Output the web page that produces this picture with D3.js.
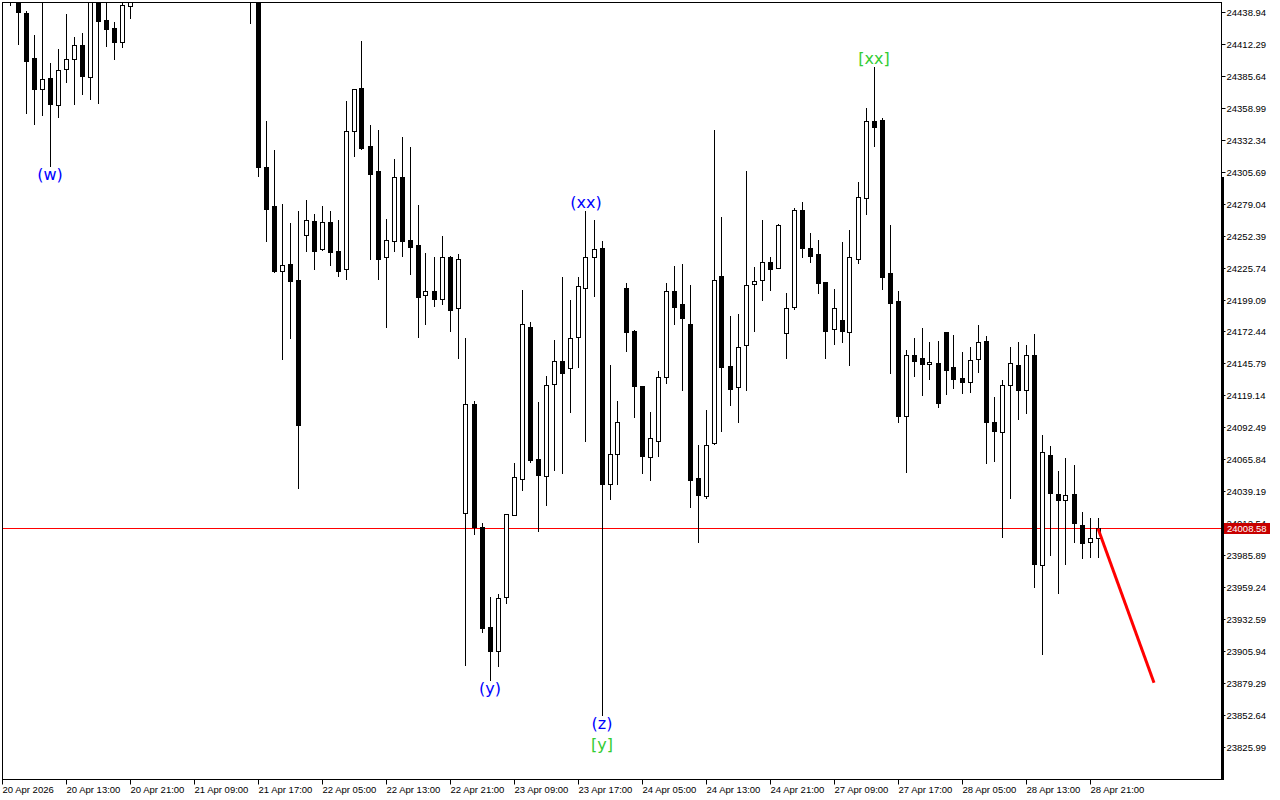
<!DOCTYPE html>
<html>
<head>
<meta charset="utf-8">
<script src="https://cdn.jsdelivr.net/npm/d3@7"></script>
<style>
  html, body { margin: 0; padding: 0; background: #ffffff; }
  svg { display: block; }
  .ax text { font-family: "Liberation Sans", Arial, sans-serif; font-size: 9.5px; fill: #000; }
</style>
</head>
<body>
<svg id="chart" width="1280" height="800"></svg>
<script>
// ---------------- DATA (H1 bars, index 0 = 20 Apr 05:00; null = not visible / above the window) ----------------
const open = [
  null, 24466, 24460, 24438.2, 24400.7, 24374.8, 24384.0, 24361.5, 24391.5, 24399.8,
  24411.5, 24384.8, 24456, 24432.6, 24425.9, 24414.0, 24444.0, null, null, null,
  null, null, null, null, null, null, null, null, null, null,
  null, 24470, 24476, 24310.3, 24277.5, 24223.5, 24228.9, 24215.8, 24253.1, 24265.0,
  24241.4, 24264.2, 24240.0, 24225.2, 24339.8, 24375.9, 24327.5, 24306.4, 24234.7, 24248.1,
  24301.4, 24249.2, 24244.7, 24203.0, 24206.4, 24199.7, 24234.7, 24192.2, 24021.3, 24112.8,
  24010.2, 23926.2, 23906.8, 23951.8, 24020.0, 24049.6, 24177.0, 24066.3, 24052.1, 24128.9,
  24148.0, 24142.7, 24168.1, 24208.8, 24234.7, 24242.1, 24045.3, 24070.3, 24208.8, 24173.3,
  24127.3, 24068.6, 24081.3, 24135.2, 24206.4, 24195.5, 24178.9, 24050.4, 24035.9, 24079.6,
  24218.9, 24143.8, 24126.8, 24161.3, 24212.2, 24215.5, 24230.6, 24226.0, 24171.8, 24193.0,
  24273.9, 24242.2, 24237.5, 24213.9, 24174.7, 24182.2, 24172.7, 24233.6, 24283.9, 24348.4,
  24349.0, 24221.4, 24198.0, 24102.1, 24153.0, 24150.5, 24145.5, 24146.3, 24172.4, 24143.0,
  24133.8, 24131.0, 24149.7, 24164.9, 24097.1, 24088.8, 24128.0, 24144.7, 24123.8, 24153.0,
  23977.9, 24069.6, 24037.1, 24032.1, 24037.1, 24011.2, 23997.1, 24000.4
];
const high = [
  null, 24472, 24468, 24440.1, 24420.1, 24452, 24396.5, 24408.2, 24437.4, 24418.2,
  24421.5, 24462, 24464, 24452, 24430.7, 24451, 24466, null, null, null,
  null, null, null, null, null, null, null, null, null, null,
  null, 24482, 24480, 24348.4, 24324.2, 24279.2, 24263.6, 24273.6, 24282.5, 24270.8,
  24277.5, 24273.3, 24265.8, 24365.1, 24375.4, 24415.1, 24345.0, 24340.9, 24266.7, 24316.4,
  24335.3, 24326.5, 24278.3, 24238.1, 24235.2, 24252.5, 24235.5, 24237.2, 24167.2, 24115.3,
  24012.9, 23951.5, 23954.3, 24020.8, 24063.2, 24207.5, 24181.0, 24114.1, 24135.4, 24165.6,
  24218.6, 24198.9, 24218.0, 24273.3, 24265.8, 24248.0, 24144.9, 24114.7, 24213.5, 24173.8,
  24127.8, 24105.7, 24139.7, 24213.3, 24227.5, 24229.1, 24211.4, 24078.0, 24107.4, 24340.9,
  24268.1, 24185.8, 24187.4, 24306.7, 24226.4, 24265.6, 24234.7, 24262.5, 24205.0, 24275.6,
  24280.6, 24254.7, 24248.9, 24214.4, 24208.0, 24247.5, 24257.2, 24297.3, 24359.0, 24393.2,
  24351.1, 24261.4, 24206.6, 24157.4, 24167.4, 24175.8, 24164.1, 24164.9, 24172.8, 24169.9,
  24155.8, 24159.9, 24178.3, 24169.1, 24118.2, 24132.4, 24159.9, 24164.1, 24161.3, 24170.8,
  24086.5, 24077.1, 24056.3, 24067.1, 24061.3, 24022.1, 24017.1, 24017.1
];
const low = [
  null, 24445.5, 24412.3, 24355.3, 24345.6, 24353.4, 24310.9, 24351.5, 24380.7, 24362.8,
  24370.6, 24366.5, 24363.6, 24410.7, 24400.3, 24410.3, 24434.0, null, null, null,
  null, null, null, null, null, null, null, null, null, null,
  null, 24430.4, 24302.5, 24248.6, 24222.7, 24149.7, 24167.7, 24042.6, 24240.2, 24225.2,
  24240.6, 24228.3, 24219.1, 24216.9, 24319.4, 24325.4, 24233.6, 24216.9, 24176.9, 24240.2,
  24236.1, 24221.0, 24168.5, 24178.9, 24193.9, 24195.5, 24173.5, 24150.5, 23895.1, 24003.7,
  23922.2, 23882.1, 23893.5, 23946.5, 24019.5, 24040.7, 24064.1, 24006.1, 24028.3, 24057.6,
  24055.2, 24106.1, 24143.4, 24081.7, 24202.6, 23853.4, 24032.9, 24045.9, 24156.3, 24101.5,
  24054.5, 24048.7, 24069.0, 24130.2, 24179.1, 24124.3, 24026.8, 23997.6, 24034.3, 24078.8,
  24090.1, 24111.8, 24097.6, 24124.3, 24173.5, 24199.4, 24207.7, 24225.5, 24151.0, 24191.4,
  24235.2, 24231.1, 24205.2, 24151.0, 24162.2, 24164.3, 24145.2, 24230.2, 24271.1, 24327.8,
  24208.5, 24138.0, 24097.6, 24055.9, 24135.7, 24119.9, 24133.5, 24110.1, 24121.0, 24126.0,
  24121.8, 24122.6, 24139.3, 24063.4, 24065.1, 24001.7, 24034.3, 24100.1, 24105.1, 23960.0,
  23904.2, 23986.7, 23955.0, 23979.2, 23997.6, 23984.2, 23985.1, 23985.1
];
const close = [
  null, 24460, 24439.5, 24398.7, 24374.8, 24383.2, 24362.3, 24390.7, 24399.8, 24411.5,
  24385.7, 24456, 24432.0, 24425.4, 24414.0, 24444.9, 24458, null, null, null,
  null, null, null, null, null, null, null, null, null, null,
  null, 24476, 24310.3, 24274.8, 24223.5, 24228.1, 24215.2, 24095.1, 24265.6, 24240.2,
  24264.2, 24239.4, 24223.5, 24339.8, 24374.8, 24326.1, 24304.4, 24233.6, 24249.2, 24301.4,
  24248.6, 24243.6, 24201.9, 24206.4, 24199.7, 24234.7, 24191.0, 24233.1, 24112.8, 24010.2,
  23925.9, 23906.8, 23950.3, 24020.3, 24051.2, 24178.9, 24065.7, 24053.0, 24128.0, 24148.0,
  24138.2, 24167.2, 24210.4, 24234.7, 24241.5, 24045.3, 24070.3, 24097.7, 24172.7, 24127.1,
  24069.4, 24083.8, 24134.5, 24206.4, 24193.5, 24184.4, 24049.0, 24036.8, 24078.0, 24215.5,
  24143.5, 24125.2, 24159.7, 24211.4, 24214.7, 24230.6, 24225.2, 24261.4, 24192.2, 24273.9,
  24242.7, 24236.1, 24213.5, 24173.5, 24192.2, 24173.5, 24234.7, 24284.8, 24348.1, 24343.6,
  24218.5, 24196.9, 24102.6, 24153.0, 24148.5, 24146.0, 24147.2, 24113.5, 24141.0, 24133.5,
  24130.5, 24148.8, 24163.8, 24097.6, 24090.1, 24128.0, 24146.3, 24123.8, 24153.0, 23978.7,
  24072.1, 24037.9, 24032.6, 24036.3, 24012.9, 23996.7, 24000.4, 24008.58
];

// Price-axis tick labels
const priceTicks = [
  24438.94, 24412.29, 24385.64, 24358.99, 24332.34, 24305.69, 24279.04, 24252.39,
  24225.74, 24199.09, 24172.44, 24145.79, 24119.14, 24092.49, 24065.84, 24039.19,
  24012.54, 23985.89, 23959.24, 23932.59, 23905.94, 23879.29, 23852.64, 23825.99
];
// Time-axis tick labels (bar index and label)
const timeIdx = [0, 8, 16, 24, 32, 40, 48, 56, 64, 72, 80, 88, 96, 104, 112, 120, 128, 136];
const timeLabels = [
  "20 Apr 2026", "20 Apr 13:00", "20 Apr 21:00", "21 Apr 09:00", "21 Apr 17:00", "22 Apr 05:00",
  "22 Apr 13:00", "22 Apr 21:00", "23 Apr 09:00", "23 Apr 17:00", "24 Apr 05:00", "24 Apr 13:00",
  "24 Apr 21:00", "27 Apr 09:00", "27 Apr 17:00", "28 Apr 05:00", "28 Apr 13:00", "28 Apr 21:00"
];
// Current price
const lastPrice = 24008.58;
// Projection line (bar index, price)
const trendIdx = [137, 144];
const trendPrice = [24008.58, 23880.0];
// Wave labels
const waveText  = ["(w)", "(xx)", "(y)", "(z)", "[y]", "[xx]"];
const waveIdx   = [6, 73, 61, 75, 75, 109];
const wavePrice = [24310.9, 24273.3, 23882.1, 23853.4, 23853.4, 24393.2];
const waveSide  = ["below", "above", "below", "below", "below2", "above"];
const waveColor = ["#0000ff", "#0000ff", "#0000ff", "#0000ff", "#33cc33", "#33cc33"];

// ---------------- CHART ----------------
const W = 1280, H = 800;
const L = 2, T = 2, R = 1221, B = 779;
const svg = d3.select("#chart");
svg.append("rect").attr("width", W).attr("height", H).attr("fill", "#fff");

const x = d3.scaleLinear().domain([0, 152.375]).range([L, R]);
const y = d3.scaleLinear().domain([23799.68, 24447.61]).range([B, T]);
const crisp = v => Math.floor(v) + 0.5;

svg.append("defs").append("clipPath").attr("id", "plot")
  .append("rect").attr("x", L + 1).attr("y", T + 1).attr("width", R - L - 1).attr("height", B - T - 1);

const plot = svg.append("g").attr("clip-path", "url(#plot)");

// current price line
plot.append("line")
  .attr("x1", L).attr("x2", R)
  .attr("y1", crisp(y(lastPrice))).attr("y2", crisp(y(lastPrice)))
  .attr("stroke", "#ff0000").attr("stroke-width", 1);

const bars = d3.range(open.length).filter(i => open[i] !== null);

const g = plot.append("g");
const candle = g.selectAll("g.c").data(bars).join("g").attr("class", "c");

candle.append("line")
  .attr("x1", i => crisp(x(i))).attr("x2", i => crisp(x(i)))
  .attr("y1", i => Math.round(y(high[i]))).attr("y2", i => Math.round(y(low[i])) + 1)
  .attr("stroke", "#000").attr("stroke-width", 1);

candle.each(function(i) {
  const sel = d3.select(this);
  const cx = Math.floor(x(i));
  const yo = Math.round(y(open[i])), yc = Math.round(y(close[i]));
  if (close[i] >= open[i]) {
    sel.append("rect")
      .attr("x", cx - 2 + 0.5).attr("width", 4)
      .attr("y", yc + 0.5).attr("height", Math.max(yo - yc, 1))
      .attr("fill", "#fff").attr("stroke", "#000").attr("stroke-width", 1);
  } else {
    sel.append("rect")
      .attr("x", cx - 2).attr("width", 5)
      .attr("y", yo).attr("height", Math.max(yc - yo, 1) + 1)
      .attr("fill", "#000");
  }
});

// projection line
plot.append("path")
  .datum(d3.range(trendIdx.length))
  .attr("d", d3.line().x(k => x(trendIdx[k])).y(k => y(trendPrice[k])))
  .attr("fill", "none").attr("stroke", "#ff0000").attr("stroke-width", 3);

// wave labels
const waveOffset = { below: 8.5, below2: 30, above: -9 };
plot.selectAll("text.w").data(d3.range(waveText.length)).join("text")
  .attr("class", "w")
  .attr("x", k => x(waveIdx[k]))
  .attr("y", k => y(wavePrice[k]) + waveOffset[waveSide[k]])
  .attr("dy", "0.35em")
  .attr("text-anchor", "middle")
  .attr("font-family", "DejaVu Sans, sans-serif")
  .attr("font-size", "16px")
  .attr("fill", k => waveColor[k])
  .text(k => waveText[k]);

// frame
svg.append("rect")
  .attr("x", L + 0.5).attr("y", T + 0.5)
  .attr("width", R - L).attr("height", B - T)
  .attr("fill", "none").attr("stroke", "#000").attr("stroke-width", 1);

// scroll marker on the price axis
svg.append("rect").attr("x", R).attr("y", 177).attr("width", 3).attr("height", B - 177 + 1).attr("fill", "#000");

// price axis
const yAxis = d3.axisRight(y).tickValues(priceTicks).tickSize(4).tickPadding(1)
  .tickFormat(d => d.toFixed(2));
const ya = svg.append("g").attr("class", "ax").attr("transform", `translate(${R + 0.5},0)`).call(yAxis);
ya.select(".domain").remove();
ya.selectAll(".tick line").attr("stroke", "#000").attr("transform", function() {
  return null;
});
ya.selectAll(".tick").attr("transform", d => `translate(0,${crisp(y(d))})`);

// time axis
const xAxis = d3.axisBottom(x).tickValues(timeIdx).tickSize(5).tickPadding(2)
  .tickFormat((d, k) => timeLabels[k]);
const xa = svg.append("g").attr("class", "ax").attr("transform", `translate(0,${B + 0.5})`).call(xAxis);
xa.select(".domain").remove();
xa.selectAll(".tick").attr("transform", d => `translate(${crisp(x(d))},0)`);
xa.selectAll(".tick line").attr("stroke", "#000");
xa.selectAll(".tick text").attr("text-anchor", "start").attr("x", 0);

// current price tag
const ty = crisp(y(lastPrice));
const tag = svg.append("g");
tag.append("rect").attr("x", R + 3).attr("y", ty - 5.5).attr("width", 46).attr("height", 11).attr("fill", "#c80000");
tag.append("text").attr("x", R + 6).attr("y", ty).attr("dy", "0.35em")
  .attr("font-family", "Liberation Sans, Arial, sans-serif").attr("font-size", "9.5px")
  .attr("fill", "#fff").text(lastPrice.toFixed(2));
</script>
</body>
</html>
